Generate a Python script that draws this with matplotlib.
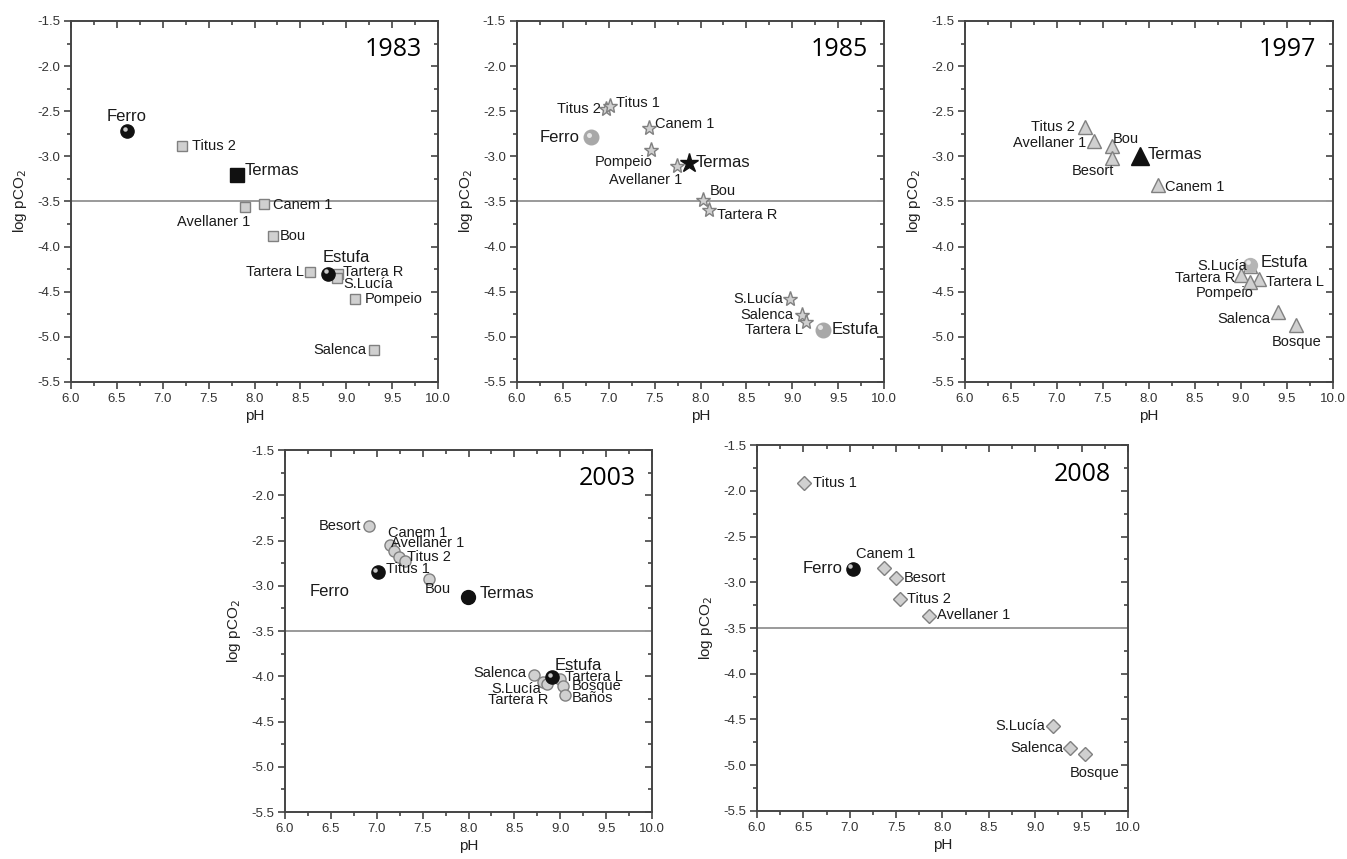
import matplotlib
matplotlib.use('Agg')
import matplotlib.pyplot as plt
from matplotlib.ticker import MultipleLocator, FormatStrFormatter
from matplotlib.transforms import offset_copy

plt.rcParams['font.family'] = ['Liberation Sans', 'DejaVu Sans']
plt.rcParams['axes.unicode_minus'] = False

# 1983
names_1983 = ['Ferro', 'Titus 2', 'Termas', 'Avellaner 1', 'Canem 1', 'Bou', 'Tartera L',
              'Tartera R', 'S.Lucía', 'Pompeio', 'Salenca', 'Estufa']
ph_1983 = [6.61, 7.21, 7.81, 7.90, 8.10, 8.20, 8.60, 8.91, 8.90, 9.10, 9.30, 8.80]
pco2_1983 = [-2.72, -2.89, -3.21, -3.56, -3.53, -3.88, -4.28, -4.30, -4.35, -4.58, -5.15, -4.30]

# 1985
names_1985 = ['Titus 2', 'Titus 1', 'Canem 1', 'Ferro', 'Pompeio', 'Avellaner 1', 'Termas',
              'Bou', 'Tartera R', 'S.Lucía', 'Salenca', 'Tartera L', 'Estufa']
ph_1985 = [6.97, 7.01, 7.44, 6.81, 7.46, 7.74, 7.87, 8.03, 8.09, 8.97, 9.11, 9.15, 9.33]
pco2_1985 = [-2.48, -2.44, -2.69, -2.79, -2.93, -3.11, -3.07, -3.48, -3.59, -4.58, -4.76, -4.83, -4.92]

# 1997
names_1997 = ['Titus 2', 'Avellaner 1', 'Bou', 'Besort', 'Termas', 'Canem 1', 'S.Lucía',
              'Tartera R', 'Tartera L', 'Pompeio', 'Estufa', 'Salenca', 'Bosque']
ph_1997 = [7.30, 7.40, 7.60, 7.60, 7.90, 8.10, 9.10, 9.00, 9.20, 9.10, 9.10, 9.40, 9.60]
pco2_1997 = [-2.67, -2.83, -2.89, -3.02, -3.00, -3.32, -4.22, -4.31, -4.36, -4.39, -4.20, -4.72, -4.87]

# 2003
names_2003 = ['Besort', 'Canem 1', 'Avellaner 1', 'Titus 2', 'Titus 1', 'Ferro', 'Bou', 'Termas',
              'Salenca', 'S.Lucía', 'Tartera R', 'Tartera L', 'Bosque', 'Baños', 'Estufa']
ph_2003 = [6.92, 7.14, 7.19, 7.24, 7.31, 7.01, 7.57, 7.99, 8.71, 8.81, 8.86, 9.00, 9.03, 9.05, 8.91]
pco2_2003 = [-2.34, -2.55, -2.62, -2.68, -2.73, -2.85, -2.93, -3.12, -3.99, -4.06, -4.08, -4.03,
             -4.11, -4.21, -4.01]

# 2008
names_2008 = ['Titus 1', 'Ferro', 'Canem 1', 'Besort', 'Titus 2', 'Avellaner 1', 'S.Lucía',
              'Salenca', 'Bosque']
ph_2008 = [6.51, 7.03, 7.37, 7.50, 7.54, 7.85, 9.19, 9.37, 9.54]
pco2_2008 = [-1.91, -2.85, -2.84, -2.95, -3.18, -3.37, -4.57, -4.81, -4.88]

threshold = -3.5

# label placement (pixels from the marker, alignment)
labels_1983 = {'Ferro': (0, 15, 'center'), 'Titus 2': (10, 0, 'left'), 'Termas': (8, 5, 'left'),
               'Avellaner 1': (5, -15, 'right'), 'Canem 1': (9, -1, 'left'), 'Bou': (7, 0, 'left'),
               'Tartera L': (-6, 0, 'right'), 'Estufa': (18, 16, 'center'),
               'Tartera R': (5, 2, 'left'), 'S.Lucía': (6, -6, 'left'),
               'Pompeio': (9, 0, 'left'), 'Salenca': (-7, 0, 'right')}
labels_1985 = {'Titus 2': (-5, 0, 'right'), 'Titus 1': (6, 3, 'left'), 'Canem 1': (6, 4, 'left'),
               'Ferro': (-12, 0, 'right'), 'Pompeio': (2, -12, 'right'),
               'Avellaner 1': (6, -14, 'right'), 'Termas': (7, 0, 'left'), 'Bou': (6, 9, 'left'),
               'Tartera R': (8, -5, 'left'), 'S.Lucía': (-6, 0, 'right'),
               'Salenca': (-9, 0, 'right'), 'Tartera L': (-3, -8, 'right'),
               'Estufa': (9, 0, 'left')}
labels_1997 = {'Titus 2': (-10, 0, 'right'), 'Avellaner 1': (-8, -2, 'right'), 'Bou': (1, 7, 'left'),
               'Besort': (2, -13, 'right'), 'Termas': (8, 2, 'left'), 'Canem 1': (7, -2, 'left'),
               'S.Lucía': (-3, 0, 'right'), 'Tartera R': (-6, -3, 'right'),
               'Tartera L': (7, -3, 'left'), 'Pompeio': (3, -11, 'right'),
               'Estufa': (10, 2, 'left'), 'Salenca': (-7, -7, 'right'),
               'Bosque': (0, -17, 'center')}
labels_2003 = {'Besort': (-8, 0, 'right'), 'Canem 1': (-2, 12, 'left'),
               'Avellaner 1': (-3, 8, 'left'), 'Titus 2': (8, 0, 'left'),
               'Titus 1': (-19, -8, 'left'), 'Ferro': (-68, -19, 'left'), 'Bou': (9, -10, 'center'),
               'Termas': (12, 3, 'left'), 'Salenca': (-7, 2, 'right'), 'S.Lucía': (-2, -7, 'right'),
               'Tartera R': (1, -16, 'right'), 'Tartera L': (5, 2, 'left'),
               'Bosque': (9, 0, 'left'), 'Baños': (7, -3, 'left'), 'Estufa': (3, 12, 'left')}
labels_2008 = {'Titus 1': (9, 0, 'left'), 'Ferro': (-10, 0, 'right'), 'Canem 1': (2, 14, 'center'),
               'Besort': (8, 0, 'left'), 'Titus 2': (7, 0, 'left'),
               'Avellaner 1': (8, 1, 'left'), 'S.Lucía': (-8, 0, 'right'),
               'Salenca': (-6, 0, 'right'), 'Bosque': (9, -19, 'center')}

big_names = ['Ferro', 'Termas', 'Estufa']


def sphere(ax, x, y, face, light, ms):
    ax.plot(x, y, 'o', ms=ms, mfc=face, mec=face, zorder=5)
    hl = offset_copy(ax.transData, fig=ax.figure, x=-1.6, y=1.6, units='points')
    ax.plot(x, y, 'o', ms=ms * 0.34, mfc=light, mec='none', alpha=0.9, transform=hl, zorder=6)


def draw_panel(ax, year, names, ph, pco2, labels, marker, ms, sphere_face, sphere_light, sphere_ms):
    ax.axhline(threshold, color='#9a9a9a', lw=1.4, zorder=1)
    for n, x, y in zip(names, ph, pco2):
        if n in ('Ferro', 'Estufa'):
            sphere(ax, x, y, sphere_face, sphere_light, sphere_ms)
        elif n == 'Termas':
            if marker == 'o':
                ax.plot(x, y, 'o', ms=10, mfc='#111111', mec='#111111', zorder=4)
            else:
                ax.plot(x, y, marker, ms=ms * 1.25, mfc='#111111', mec='#111111', zorder=4)
        else:
            ax.plot(x, y, marker, ms=ms, mfc='#d0d0d0', mec='#808080', mew=1.0, zorder=3)
        dx, dy, ha = labels[n]
        fs = 12 if n in big_names else 10.5
        ax.annotate(n, (x, y), xytext=(dx, dy), textcoords='offset pixels',
                    ha=ha, va='center', fontsize=fs, color='#1a1a1a', zorder=7)

    ax.set_xlim(6.0, 10.0)
    ax.set_ylim(-5.5, -1.5)
    ax.xaxis.set_major_locator(MultipleLocator(0.5))
    ax.xaxis.set_minor_locator(MultipleLocator(0.25))
    ax.yaxis.set_major_locator(MultipleLocator(0.5))
    ax.yaxis.set_minor_locator(MultipleLocator(0.25))
    ax.xaxis.set_major_formatter(FormatStrFormatter('%.1f'))
    ax.yaxis.set_major_formatter(FormatStrFormatter('%.1f'))
    ax.tick_params(which='both', direction='out', color='#444444', width=1.2,
                   labelsize=9.5, labelcolor='#333333')
    ax.tick_params(which='major', length=5, pad=3)
    ax.tick_params(which='minor', length=3)
    # inward ticks on top and right
    sec_x = ax.secondary_xaxis('top')
    sec_x.xaxis.set_major_locator(MultipleLocator(0.5))
    sec_x.xaxis.set_minor_locator(MultipleLocator(0.25))
    sec_x.tick_params(which='both', direction='in', color='#444444', width=1.2, labeltop=False)
    sec_x.tick_params(which='major', length=5)
    sec_x.tick_params(which='minor', length=3)
    sec_x.spines['top'].set_visible(False)
    sec_y = ax.secondary_yaxis('right')
    sec_y.yaxis.set_major_locator(MultipleLocator(0.5))
    sec_y.yaxis.set_minor_locator(MultipleLocator(0.25))
    sec_y.tick_params(which='both', direction='in', color='#444444', width=1.2, labelright=False)
    sec_y.tick_params(which='major', length=5)
    sec_y.tick_params(which='minor', length=3)
    sec_y.spines['right'].set_visible(False)
    for s in ax.spines.values():
        s.set_color('#444444')
        s.set_linewidth(1.4)
    ax.set_xlabel('pH', fontsize=11, color='#222222', labelpad=3)
    ax.set_ylabel(r'log pCO$_2$', fontsize=11, color='#222222', labelpad=6)
    ax.text(0.955, 0.92, year, transform=ax.transAxes, ha='right', va='center',
            fontsize=18, family='Open Sans', color='black')


fig = plt.figure(figsize=(13.47, 8.59), dpi=100)
ax1 = fig.add_axes([0.0527, 0.5553, 0.2725, 0.4203])
ax2 = fig.add_axes([0.3838, 0.5553, 0.2725, 0.4203])
ax3 = fig.add_axes([0.7164, 0.5553, 0.2732, 0.4203])
ax4 = fig.add_axes([0.2116, 0.0547, 0.2725, 0.4214])
ax5 = fig.add_axes([0.5620, 0.0559, 0.2754, 0.4260])

draw_panel(ax1, '1983', names_1983, ph_1983, pco2_1983, labels_1983, 's', 7.5, '#111111', '#dddddd', 9.5)
draw_panel(ax2, '1985', names_1985, ph_1985, pco2_1985, labels_1985, '*', 11, '#a8a8a8', '#eeeeee', 10.5)
draw_panel(ax3, '1997', names_1997, ph_1997, pco2_1997, labels_1997, '^', 10, '#b5b5b5', '#eeeeee', 10)
draw_panel(ax4, '2003', names_2003, ph_2003, pco2_2003, labels_2003, 'o', 8, '#111111', '#dddddd', 9.5)
draw_panel(ax5, '2008', names_2008, ph_2008, pco2_2008, labels_2008, 'D', 7.5, '#111111', '#dddddd', 9.5)

fig.savefig('out.png', dpi=100)
